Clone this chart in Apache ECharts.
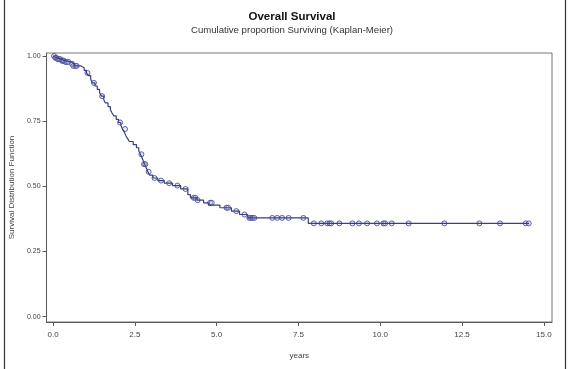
<!DOCTYPE html>
<html>
<head>
<meta charset="utf-8">
<script src="https://cdn.jsdelivr.net/npm/echarts@6/dist/echarts.min.js"></script>
<style>html,body{margin:0;padding:0;background:#fff}#c{width:574px;height:369px}</style>
</head>
<body>
<div id="c"></div>
<script>
// Kaplan-Meier step points (time in years, survival)
var stepTimes = [0, 0.05, 0.12, 0.25, 0.35, 0.55, 0.65, 0.85, 0.95, 1.02, 1.08, 1.15, 1.2, 1.28, 1.35, 1.42, 1.48, 1.55, 1.6, 1.68, 1.75, 1.8, 1.86, 1.93, 2.0, 2.07, 2.12, 2.18, 2.22, 2.28, 2.33, 2.45, 2.55, 2.62, 2.67, 2.72, 2.76, 2.8, 2.85, 2.9, 2.95, 3.05, 3.2, 3.4, 3.65, 3.9, 4.12, 4.2, 4.4, 4.6, 4.75, 5.1, 5.45, 5.7, 5.95, 7.8, 14.55];
var stepSurv  = [1.0, 0.993, 0.988, 0.982, 0.977, 0.97, 0.962, 0.955, 0.945, 0.935, 0.925, 0.91, 0.897, 0.885, 0.872, 0.86, 0.846, 0.832, 0.82, 0.806, 0.795, 0.782, 0.77, 0.757, 0.745, 0.735, 0.72, 0.708, 0.695, 0.683, 0.672, 0.66, 0.648, 0.636, 0.623, 0.61, 0.597, 0.585, 0.57, 0.556, 0.543, 0.532, 0.522, 0.512, 0.503, 0.49, 0.468, 0.456, 0.447, 0.437, 0.428, 0.418, 0.405, 0.392, 0.379, 0.358, 0.358];
// Censored observations
var censorTimes = [0.03, 0.07, 0.1, 0.14, 0.18, 0.22, 0.27, 0.3, 0.33, 0.38, 0.42, 0.47, 0.58, 0.62, 0.68, 0.72, 1.05, 1.25, 1.5, 2.05, 2.2, 2.7, 2.78, 2.82, 2.92, 3.1, 3.3, 3.55, 3.8, 4.05, 4.3, 4.35, 4.42, 4.8, 4.85, 5.3, 5.35, 5.6, 5.85, 6.0, 6.05, 6.1, 6.15, 6.7, 6.85, 7.0, 7.2, 7.65, 7.97, 8.2, 8.38, 8.45, 8.5, 8.75, 9.15, 9.35, 9.6, 9.9, 10.1, 10.15, 10.35, 10.87, 11.96, 13.03, 13.66, 14.45, 14.54];
var censorSurv  = [1.0, 0.993, 0.993, 0.988, 0.988, 0.988, 0.982, 0.982, 0.982, 0.977, 0.977, 0.977, 0.97, 0.962, 0.962, 0.962, 0.935, 0.897, 0.846, 0.745, 0.72, 0.623, 0.585, 0.585, 0.556, 0.532, 0.522, 0.512, 0.503, 0.49, 0.456, 0.456, 0.447, 0.437, 0.437, 0.418, 0.418, 0.405, 0.392, 0.379, 0.379, 0.379, 0.379, 0.379, 0.379, 0.379, 0.379, 0.379, 0.358, 0.358, 0.358, 0.358, 0.358, 0.358, 0.358, 0.358, 0.358, 0.358, 0.358, 0.358, 0.358, 0.358, 0.358, 0.358, 0.358, 0.358, 0.358];
var xTicks = [0, 2.5, 5, 7.5, 10, 12.5, 15];
var yTicks = [0, 0.25, 0.5, 0.75, 1.0];

var stepData = stepTimes.map(function (t, i) { return [t, stepSurv[i]]; });
var censorData = censorTimes.map(function (t, i) { return [t, censorSurv[i]]; });

var chart = echarts.init(document.getElementById('c'), null, {renderer: 'canvas'});
var axisColor = '#5a5a5a';
var labelStyle = {fontFamily: 'Liberation Sans, Arial, sans-serif', fontSize: 8, color: '#444'};
chart.setOption({
  backgroundColor: '#fff',
  animation: false,
  title: {
    text: 'Overall Survival',
    subtext: 'Cumulative proportion Surviving (Kaplan-Meier)',
    left: 287, textAlign: 'center', top: 6, itemGap: 2,
    textStyle: {fontFamily: 'Liberation Sans, Arial, sans-serif', fontSize: 11.5, fontWeight: 'bold', color: '#111'},
    subtextStyle: {fontFamily: 'Liberation Sans, Arial, sans-serif', fontSize: 9.6, color: '#333'}
  },
  graphic: [
    {type: 'line', shape: {x1: 4.5, y1: 0, x2: 4.5, y2: 369}, style: {stroke: '#333', lineWidth: 1.2}},
    {type: 'line', shape: {x1: 565.5, y1: 0, x2: 565.5, y2: 369}, style: {stroke: '#333', lineWidth: 1.2}}
  ],
  grid: {left: 45, top: 53, right: 22, bottom: 47, show: true, borderColor: '#777', borderWidth: 1},
  xAxis: {
    type: 'value', min: -0.2, max: 15.25,
    name: 'years', nameLocation: 'middle', nameGap: 30,
    nameTextStyle: labelStyle,
    axisLine: {show: true, onZero: false, lineStyle: {color: axisColor}},
    axisTick: {show: true, length: 4, customValues: xTicks, lineStyle: {color: axisColor}},
    axisLabel: {customValues: xTicks, margin: 9, formatter: function (v) { return v.toFixed(1); }, fontFamily: labelStyle.fontFamily, fontSize: 8, color: '#444'},
    splitLine: {show: false}
  },
  yAxis: {
    type: 'value', min: -0.0203, max: 1.0115,
    name: 'Survival Distribution Function', nameLocation: 'middle', nameGap: 30,
    nameTextStyle: labelStyle,
    axisLine: {show: true, onZero: false, lineStyle: {color: axisColor}},
    axisTick: {show: true, length: 4, customValues: yTicks, lineStyle: {color: axisColor}},
    axisLabel: {customValues: yTicks, margin: 6, formatter: function (v) { return v.toFixed(2); }, fontFamily: labelStyle.fontFamily, fontSize: 7, color: '#444'},
    splitLine: {show: false}
  },
  series: [
    {
      type: 'line', step: 'end', data: stepData, showSymbol: false,
      lineStyle: {color: '#3b3f7e', width: 1.2}
    },
    {
      type: 'scatter', data: censorData, symbol: 'circle', symbolSize: 5,
      itemStyle: {color: 'rgba(200,205,235,0.5)', borderColor: '#3d4196', borderWidth: 1}
    }
  ]
});
</script>
</body>
</html>
